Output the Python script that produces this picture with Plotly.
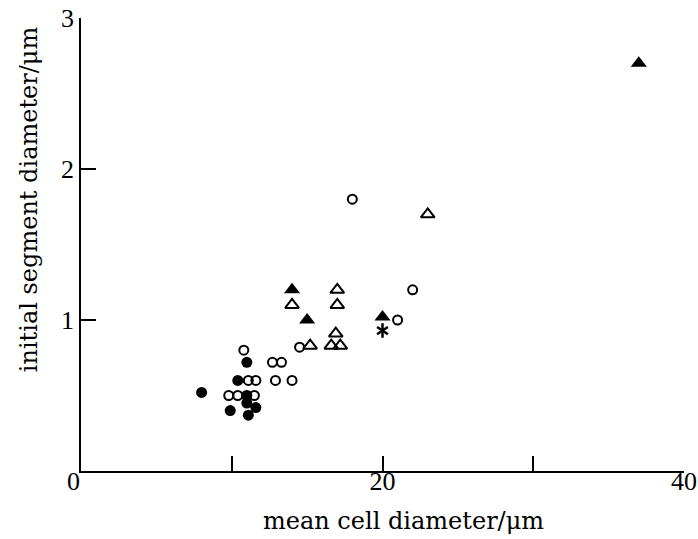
import plotly.graph_objects as go

# Mean cell diameter (um) vs initial segment diameter (um), by cell group
open_circle_x = [10.8, 11.1, 11.6, 9.8, 10.4, 11.5, 12.7, 13.3, 12.9, 14.0, 14.5, 18.0, 21.0, 22.0]
open_circle_y = [0.80, 0.60, 0.60, 0.50, 0.50, 0.50, 0.72, 0.72, 0.60, 0.60, 0.82, 1.80, 1.00, 1.20]

filled_circle_x = [8.0, 10.4, 11.0, 11.0, 9.9, 11.0, 11.1, 11.6]
filled_circle_y = [0.52, 0.60, 0.72, 0.50, 0.40, 0.45, 0.37, 0.42]

open_triangle_x = [14.0, 15.2, 16.6, 17.2, 16.9, 17.0, 17.0, 23.0]
open_triangle_y = [1.10, 0.83, 0.83, 0.83, 0.91, 1.20, 1.10, 1.70]

filled_triangle_x = [14.0, 15.0, 20.0, 37.0]
filled_triangle_y = [1.20, 1.00, 1.02, 2.70]

star_x = [20.0]
star_y = [0.93]

x_ticks = [0, 10, 20, 30, 40]
x_tick_text = ["", "", "20", "", "40"]
y_ticks = [0, 1, 2, 3]
y_tick_text = ["", "1", "2", "3"]

TICK_FONT = dict(family="Liberation Serif", size=26, color="black")
TITLE_FONT = dict(family="DejaVu Serif", size=24, color="black")

fig = go.Figure()

fig.add_trace(go.Scatter(
    x=open_circle_x, y=open_circle_y, mode="markers",
    marker=dict(symbol="circle-open", size=9, color="black", line=dict(width=2)),
))
fig.add_trace(go.Scatter(
    x=filled_circle_x, y=filled_circle_y, mode="markers",
    marker=dict(symbol="circle", size=11, color="black", line=dict(width=0)),
))
fig.add_trace(go.Scatter(
    x=open_triangle_x, y=open_triangle_y, mode="markers",
    marker=dict(symbol="triangle-up-open", size=12, color="black", line=dict(width=2)),
))
fig.add_trace(go.Scatter(
    x=filled_triangle_x, y=filled_triangle_y, mode="markers",
    marker=dict(symbol="triangle-up", size=14, color="black", line=dict(width=0)),
))
# six-armed asterisk built from two opposed "y" glyphs
for sym in ("y-up-open", "y-down-open"):
    fig.add_trace(go.Scatter(
        x=star_x, y=star_y, mode="markers",
        marker=dict(symbol=sym, size=9, color="black", line=dict(width=2.5, color="black")),
    ))

axis_style = dict(
    ticks="inside", ticklen=15, tickwidth=1.5, tickcolor="black",
    showline=True, linewidth=1.5, linecolor="black", mirror=False,
    showgrid=False, zeroline=False, tickfont=TICK_FONT, automargin=False,
)

fig.update_layout(
    width=698, height=539,
    margin=dict(l=81, r=14, t=18, b=68, autoexpand=False),
    paper_bgcolor="white", plot_bgcolor="white",
    showlegend=False,
    xaxis=dict(range=[0, 40], tickvals=x_ticks, ticktext=x_tick_text,
               ticklabelstandoff=-14, **axis_style),
    yaxis=dict(range=[0, 3], tickvals=y_ticks, ticktext=y_tick_text, **axis_style),
    annotations=[
        dict(text="0", x=-0.013, y=0, xref="paper", yref="paper",
             xanchor="center", yanchor="middle", yshift=-10, showarrow=False, font=TICK_FONT),
        dict(text="mean cell diameter/μm", x=0.535, y=0, xref="paper", yref="paper",
             xanchor="center", yanchor="middle", yshift=-50, showarrow=False, font=TITLE_FONT),
        dict(text="initial segment diameter/μm", x=0, y=0.6, xref="paper", yref="paper",
             xanchor="center", yanchor="middle", xshift=-52, textangle=-90,
             showarrow=False, font=TITLE_FONT),
    ],
)

fig.write_html("out.html")
